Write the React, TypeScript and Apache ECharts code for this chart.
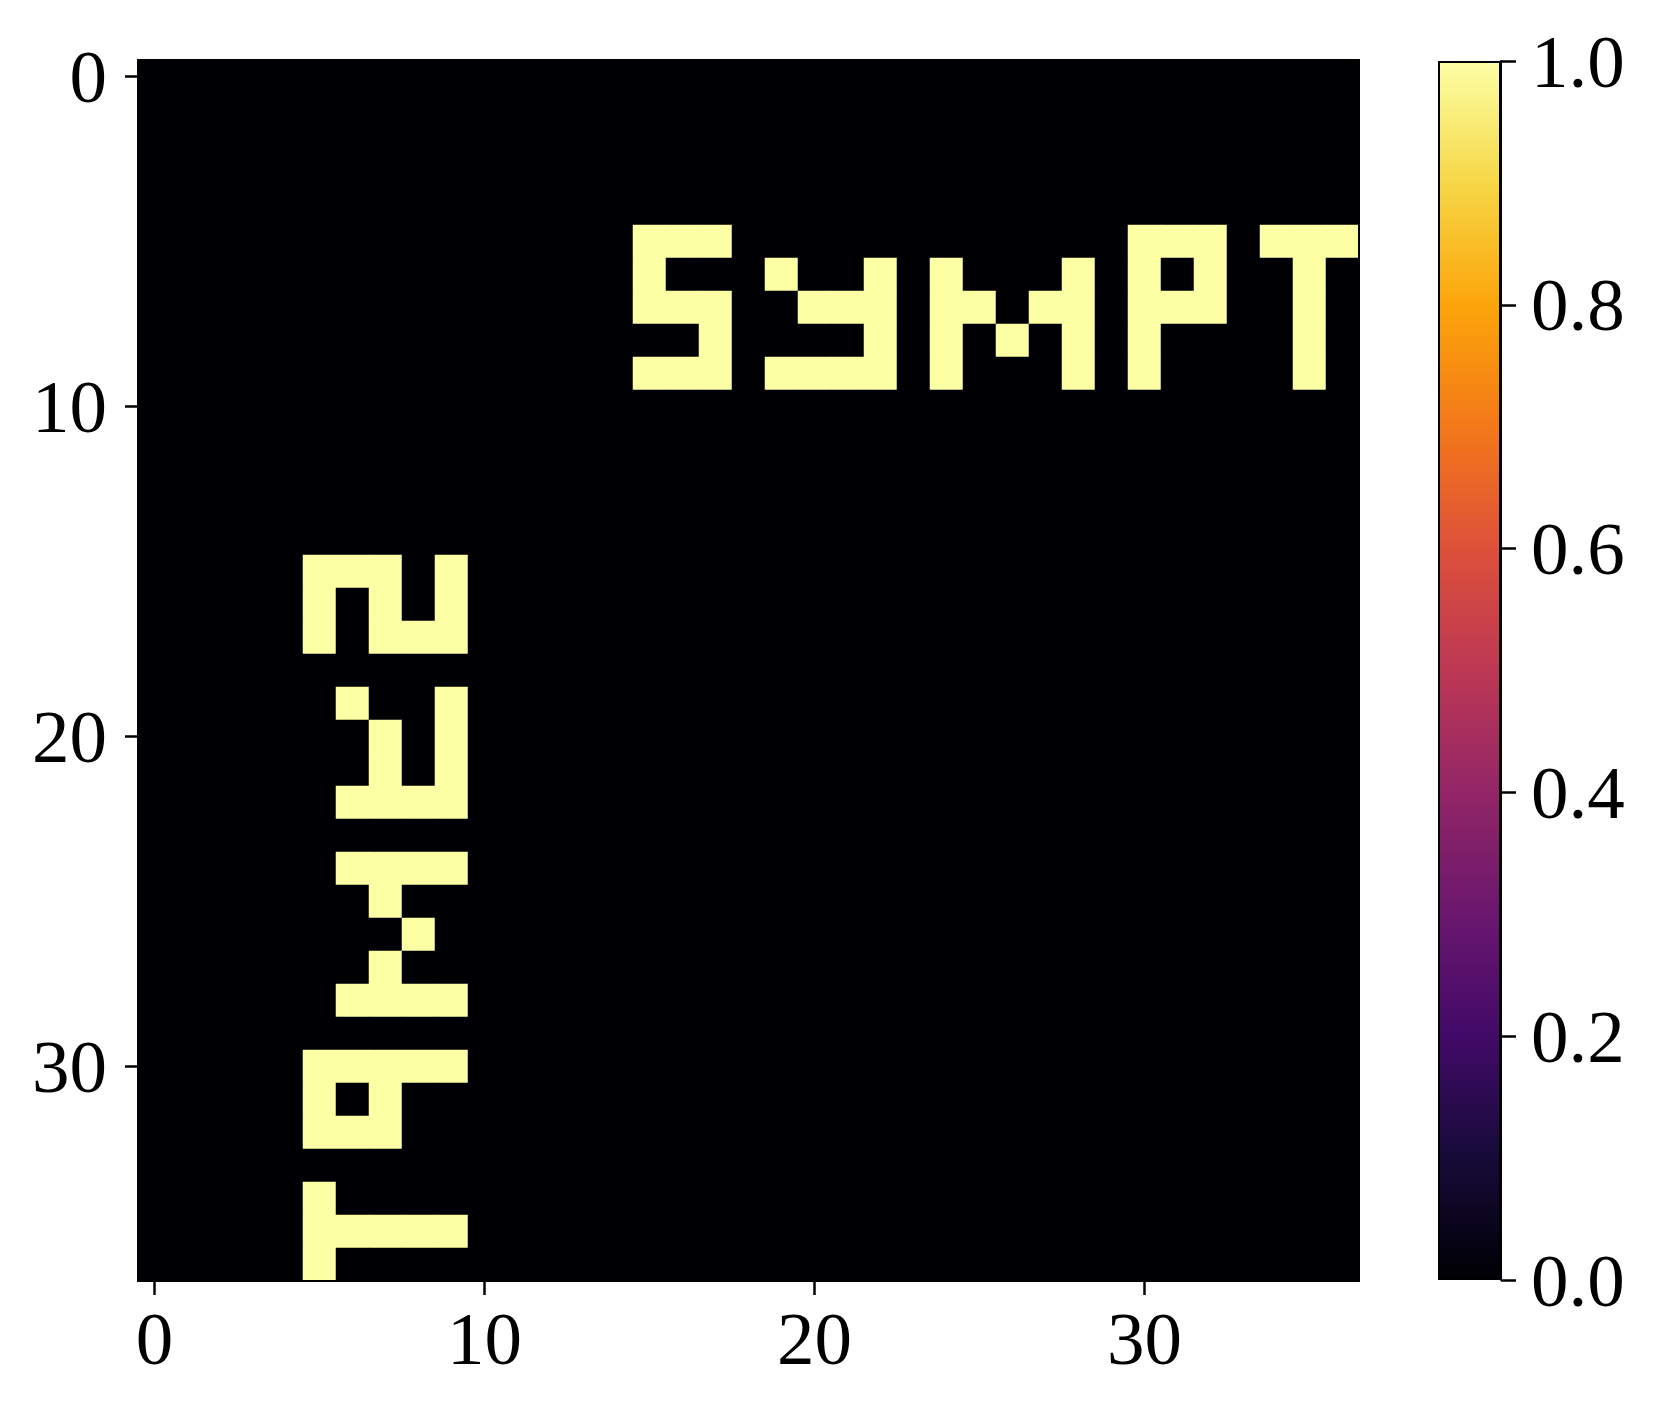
import React, { useEffect, useRef } from "react";
import * as echarts from "echarts";

// Tick categories of the 37 x 37 image (row / column indices)
const axisCategories: string[] = [
  "0", "1", "2", "3", "4", "5", "6", "7", "8", "9",
  "10", "11", "12", "13", "14", "15", "16", "17", "18", "19",
  "20", "21", "22", "23", "24", "25", "26", "27", "28", "29",
  "30", "31", "32", "33", "34", "35", "36",
];

// For every image row (0..36), the columns whose value is 1; all other cells are 0
const litColumnsByRow: number[][] = [
  [], [], [], [], [],
  [15, 16, 17, 30, 31, 32, 34, 35, 36],
  [15, 19, 22, 24, 28, 30, 32, 35],
  [15, 16, 17, 20, 21, 22, 24, 25, 27, 28, 30, 31, 32, 35],
  [17, 22, 24, 26, 28, 30, 35],
  [15, 16, 17, 19, 20, 21, 22, 24, 28, 30, 35],
  [], [], [], [], [],
  [5, 6, 7, 9],
  [5, 7, 9],
  [5, 7, 8, 9],
  [],
  [6, 9],
  [7, 9],
  [7, 9],
  [6, 7, 8, 9],
  [],
  [6, 7, 8, 9],
  [7],
  [8],
  [7],
  [6, 7, 8, 9],
  [],
  [5, 6, 7, 8, 9],
  [5, 7],
  [5, 6, 7],
  [],
  [5],
  [5, 6, 7, 8, 9],
  [5],
];

// Colour scale range and colorbar ticks
const colorMin = 0;
const colorMax = 1;
const colorbarStep = 0.2;

// matplotlib "inferno" colormap stops
const infernoColors: string[] = [
  "#000004", "#160b39", "#420a68", "#6a176e", "#932667", "#bc3754",
  "#dd513a", "#f37819", "#fca50a", "#f6d746", "#fcffa4",
];

const FONT = "'Liberation Serif', 'Times New Roman', serif";

export default function App() {
  const ref = useRef<HTMLDivElement>(null);

  useEffect(() => {
    document.body.style.margin = "0";
    if (!ref.current) return;
    const chart = echarts.init(ref.current, undefined, { renderer: "svg" });

    const cells: number[][] = [];
    for (let r = 0; r < axisCategories.length; r++) {
      for (let c = 0; c < axisCategories.length; c++) {
        cells.push([c, r, litColumnsByRow[r].includes(c) ? 1 : 0]);
      }
    }

    const stops = infernoColors.map((color, i) => ({
      offset: i / (infernoColors.length - 1),
      color,
    }));

    const spine = { show: true, onZero: false, lineStyle: { color: "#000", width: 2 } };
    const tickStyle = { color: "#000", width: 2.5 };
    const labelStyle = { fontFamily: FONT, fontSize: 75, color: "#000" };

    const option: any = {
      animation: false,
      backgroundColor: "#ffffff",
      grid: [
        { left: 138, top: 60, width: 1221, height: 1221 },
        { left: 1438, top: 61, width: 63, height: 1219 },
      ],
      xAxis: [
        {
          type: "category",
          gridIndex: 0,
          data: axisCategories,
          position: "bottom",
          z: 10,
          axisLine: spine,
          axisTick: { show: true, alignWithLabel: true, interval: 9, length: 14, lineStyle: tickStyle },
          axisLabel: { ...labelStyle, interval: 9, margin: 20 },
          splitLine: { show: false },
        },
        {
          type: "category",
          gridIndex: 0,
          data: axisCategories,
          position: "top",
          z: 10,
          axisLine: spine,
          axisTick: { show: false },
          axisLabel: { show: false },
          splitLine: { show: false },
        },
        {
          type: "category",
          gridIndex: 1,
          data: ["colorbar"],
          show: false,
        },
      ],
      yAxis: [
        {
          type: "category",
          gridIndex: 0,
          data: axisCategories,
          inverse: true,
          position: "left",
          z: 10,
          axisLine: spine,
          axisTick: { show: true, alignWithLabel: true, interval: 9, length: 13, lineStyle: tickStyle },
          axisLabel: { ...labelStyle, interval: 9, margin: 31 },
          splitLine: { show: false },
        },
        {
          type: "category",
          gridIndex: 0,
          data: axisCategories,
          inverse: true,
          position: "right",
          z: 10,
          axisLine: spine,
          axisTick: { show: false },
          axisLabel: { show: false },
          splitLine: { show: false },
        },
        {
          type: "value",
          gridIndex: 1,
          min: colorMin,
          max: colorMax,
          interval: colorbarStep,
          position: "right",
          z: 10,
          axisLine: spine,
          axisTick: { show: true, length: 15, lineStyle: tickStyle },
          axisLabel: {
            ...labelStyle,
            margin: 30,
            formatter: (v: number) => v.toFixed(1),
          },
          splitLine: { show: false },
        },
      ],
      visualMap: {
        show: false,
        type: "continuous",
        min: colorMin,
        max: colorMax,
        seriesIndex: 0,
        inRange: { color: infernoColors },
      },
      series: [
        {
          type: "heatmap",
          xAxisIndex: 0,
          yAxisIndex: 0,
          data: cells,
          itemStyle: { borderWidth: 0 },
          emphasis: { disabled: true },
          silent: true,
          progressive: 0,
        },
        {
          type: "bar",
          xAxisIndex: 2,
          yAxisIndex: 2,
          data: [colorMax],
          barWidth: "100%",
          silent: true,
          itemStyle: {
            color: new echarts.graphic.LinearGradient(0, 1, 0, 0, stops),
            borderColor: "#000",
            borderWidth: 2,
          },
        },
      ],
    };

    chart.setOption(option);
    return () => chart.dispose();
  }, []);

  return <div ref={ref} style={{ width: 1663, height: 1417, background: "#fff" }} />;
}
